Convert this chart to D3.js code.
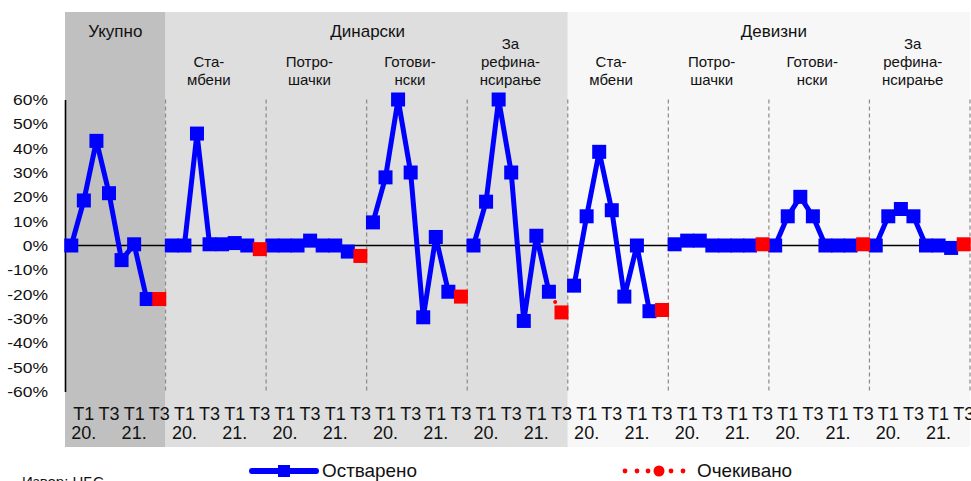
<!DOCTYPE html>
<html><head><meta charset="utf-8">
<script src="https://cdn.jsdelivr.net/npm/d3@7"></script>
<style>
body{margin:0;background:#fff;}
svg{display:block;font-family:"Liberation Sans",Arial,sans-serif;}
</style></head>
<body><svg id="c" width="971" height="481"></svg>
<script>
// ---- data ----
const sections = ["Укупно", "Динарски", "Девизни"];
const sectionSizes = [1, 4, 4];
const groupLabels = [
  [],
  ["Ста-", "мбени"], ["Потро-", "шачки"], ["Готови-", "нски"], ["За", "рефина-", "нсирање"],
  ["Ста-", "мбени"], ["Потро-", "шачки"], ["Готови-", "нски"], ["За", "рефина-", "нсирање"]
];
const quarters = ["T4", "T1", "T2", "T3", "T4", "T1", "T2", "T3"];
const years = ["19.", "20.", "20.", "20.", "20.", "21.", "21.", "21."];
const ukupno        = [0, 18.5, 43, 21.5, -6, 0.5, -22];
const dinStambeni   = [0, 0, 46, 0.5, 0.5, 1, 0];
const dinPotrosacki = [0, 0, 0, 2, 0, 0, -2.5];
const dinGotovinski = [9.5, 28, 60, 30, -29.5, 3.5, -19];
const dinRefin      = [0, 18, 60, 30, -31, 4, -19];
const devStambeni   = [-16.5, 12, 38.5, 14.5, -21, 0, -27];
const devPotrosacki = [0.5, 2, 2, 0, 0, 0, 0];
const devGotovinski = [0, 12, 20, 12, 0, 0, 0];
const devRefin      = [0, 12, 15, 12, 0, 0, -1];
const expected      = [-22, -1.5, -4.3, -21, -27.5, -26.5, 0.5, 0.5, 0.5];
const yTickValues = [60, 50, 40, 30, 20, 10, 0, -10, -20, -30, -40, -50, -60];
const legendActual = "Остварено";
const legendExpected = "Очекивано";
const sourceText = "Извор: НБС";

// ---- layout ----
const actual = [ukupno, dinStambeni, dinPotrosacki, dinGotovinski, dinRefin,
                devStambeni, devPotrosacki, devGotovinski, devRefin];
const nG = actual.length, nS = quarters.length;
const svg = d3.select("#c");
const L = 65, R = 970;
const gx = d3.scaleBand().domain(d3.range(nG)).range([L, R]);
const x = d3.scaleBand().domain(d3.range(nG * nS)).range([L, R]);
const xc = (g, i) => x(g * nS + i) + x.bandwidth() / 2;
const y = d3.scaleLinear().domain([-60, 60]).range([391.5, 99.5]);
const panelColors = ["#c0c0c0", "#dedede", "#f7f7f7"];

// panels
let start = 0;
const secInfo = [];
sections.forEach((s, k) => {
  const x0 = gx(start), x1 = gx(start + sectionSizes[k] - 1) + gx.bandwidth();
  svg.append("rect").attr("x", x0).attr("y", 12).attr("width", x1 - x0).attr("height", 435)
    .attr("fill", panelColors[k]);
  secInfo.push([x0, x1]);
  start += sectionSizes[k];
});

function txt(parent, t, px, py, size, anchor, sx) {
  return parent.append("text").text(t)
    .attr("transform", `translate(${px},${py}) scale(${sx || 1},1)`)
    .attr("text-anchor", anchor || "middle")
    .attr("font-size", size).attr("fill", "#111");
}

// section titles
const secOffsets = [0, 1, 5];
sections.forEach((s, k) => {
  const [x0, x1] = secInfo[k];
  txt(svg, s, (x0 + x1) / 2 + secOffsets[k], 37, 17);
});
// group labels
groupLabels.forEach((lines, g) => {
  const cx = gx(g) + gx.bandwidth() / 2 - 7;
  const base = 85 - (lines.length - 1) * 18;
  lines.forEach((ln, j) => txt(svg, ln, cx, base + j * 18, 15));
});

// separators
d3.range(1, nG + 1).forEach(g => {
  const xx = g < nG ? gx(g) : R;
  svg.append("line").attr("x1", xx).attr("x2", xx).attr("y1", y(60)).attr("y2", y(-60))
    .attr("stroke", "#8a8a8a").attr("stroke-width", 1.2).attr("stroke-dasharray", "4,3");
});

// zero line
svg.append("line").attr("x1", L).attr("x2", R).attr("y1", y(0)).attr("y2", y(0))
  .attr("stroke", "#000").attr("stroke-width", 1.6);

// y axis
const ax = svg.append("g").attr("transform", `translate(${L},0)`)
  .call(d3.axisLeft(y).tickValues(yTickValues).tickSize(0).tickSizeOuter(0)
        .tickFormat(d => d + "%"));
ax.select(".domain").attr("stroke", "#000").attr("stroke-width", 1.6);
ax.selectAll(".tick text").attr("font-size", 14).attr("fill", "#111")
  .attr("font-family", '"Liberation Sans",Arial,sans-serif')
  .attr("x", -17 / 1.25).attr("dy", "0.36em").attr("transform", "scale(1.25,1)");

// x labels
for (let g = 0; g < nG; g++) {
  for (let i = 0; i < nS; i++) {
    if (i % 2 === 1) txt(svg, quarters[i], xc(g, i), 420, 18);
    if (quarters[i] === "T1") txt(svg, years[i], xc(g, i), 439, 18);
  }
}

// series
const line = d3.line().x(d => d[0]).y(d => d[1]);
const blue = "#0000ff", red = "#ff0000", ms = 14;
const expLayer = svg.append("g");
const actLayer = svg.append("g");
const expMarkLayer = svg.append("g");
actual.forEach((vals, g) => {
  const pts = vals.map((v, i) => [xc(g, i), y(v)]);
  actLayer.append("path").attr("d", line(pts)).attr("fill", "none").attr("stroke", blue)
    .attr("stroke-width", 5).attr("stroke-linejoin", "round");
  actLayer.append("g").selectAll("rect").data(pts).join("rect")
    .attr("x", d => d[0] - ms / 2).attr("y", d => d[1] - ms / 2)
    .attr("width", ms).attr("height", ms).attr("fill", blue);
});
expected.forEach((v, g) => {
  const last = actual[g][actual[g].length - 1];
  const p0 = [xc(g, nS - 2), y(last)], p1 = [xc(g, nS - 1), y(v)];
  expLayer.append("path").attr("d", line([p0, p1])).attr("fill", "none").attr("stroke", red)
    .attr("stroke-width", 4).attr("stroke-linecap", "round").attr("stroke-dasharray", "0,12");
  expMarkLayer.append("rect").attr("x", p1[0] - ms / 2).attr("y", p1[1] - ms / 2)
    .attr("width", ms).attr("height", ms).attr("fill", red);
});

// legend
svg.append("line").attr("x1", 252).attr("x2", 316).attr("y1", 471).attr("y2", 471)
  .attr("stroke", blue).attr("stroke-width", 6).attr("stroke-linecap", "round");
svg.append("rect").attr("x", 278).attr("y", 465).attr("width", 12).attr("height", 12).attr("fill", blue);
txt(svg, legendActual, 322, 477, 18, "start", 1.05);
[625, 637, 648, 671, 683].forEach(cx => svg.append("circle").attr("cx", cx).attr("cy", 471).attr("r", 2.4).attr("fill", red));
svg.append("circle").attr("cx", 659).attr("cy", 471).attr("r", 5.5).attr("fill", red);
txt(svg, legendExpected, 697, 477, 18, "start", 1.05);
txt(svg, sourceText, 22, 487, 15, "start");
</script></body></html>
